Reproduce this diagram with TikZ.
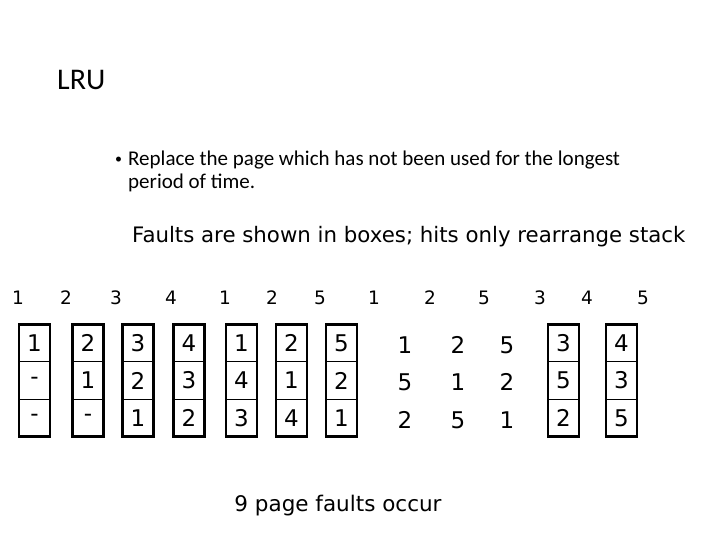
\documentclass[tikz,border=0pt]{standalone}
\usepackage{fontspec}
\setmainfont{DejaVu Sans}
\newfontfamily\slidefont{Carlito}
\usetikzlibrary{positioning}
\tikzset{
  cell/.style={draw, line width=0.6pt, minimum width=31pt, minimum height=37.5pt, inner sep=0pt, outer sep=0pt, font=\fontsize{23}{23}\selectfont},
  hitnum/.style={inner sep=0pt, font=\fontsize{23}{23}\selectfont},
  refnum/.style={inner sep=0pt, font=\fontsize{18.5}{18.5}\selectfont},
  frame/.style={line width=2.6pt}
}
\begin{document}
\begin{tikzpicture}[x=1pt,y=-1pt]
\useasboundingbox[fill=white] (0,0) rectangle (720,540);
% heading and text
\node[anchor=base west, inner sep=0pt, font=\slidefont\fontsize{30}{30}\selectfont] (title) at (57,90) {LRU};
\node[anchor=base west, inner sep=0pt, font=\slidefont\fontsize{14}{14}\selectfont] (blt) at (115,164) {•};
\node[anchor=base west, inner sep=0pt, align=left, font=\slidefont\fontsize{21}{23}\selectfont] (rule) at (128,189) {Replace the page which has not been used for the longest\\period of time.};
\node[anchor=base west, inner sep=0pt, font=\fontsize{21.3}{21.3}\selectfont] (note) at (132,242) {Faults are shown in boxes; hits only rearrange stack};
% reference string
\node[refnum] (r1) at (18,298) {1};
\node[refnum] (r2) at (66,298) {2};
\node[refnum] (r3) at (116,298) {3};
\node[refnum] (r4) at (171,298) {4};
\node[refnum] (r5) at (225,298) {1};
\node[refnum] (r6) at (272,298) {2};
\node[refnum] (r7) at (320,298) {5};
\node[refnum] (r8) at (374,298) {1};
\node[refnum] (r9) at (430,298) {2};
\node[refnum] (r10) at (484,298) {5};
\node[refnum] (r11) at (540,298) {3};
\node[refnum] (r12) at (587,298) {4};
\node[refnum] (r13) at (643,298) {5};
% fault stacks
\node[cell] (s1a) at (34.5,343) {1};
\node[cell, below=0pt of s1a] (s1b) {-};
\node[cell, below=0pt of s1b] (s1c) {-};
\node[cell] (s2a) at (88,343) {2};
\node[cell, below=0pt of s2a] (s2b) {1};
\node[cell, below=0pt of s2b] (s2c) {-};
\node[cell] (s3a) at (138,343) {3};
\node[cell, below=0pt of s3a] (s3b) {2};
\node[cell, below=0pt of s3b] (s3c) {1};
\node[cell] (s4a) at (189,343) {4};
\node[cell, below=0pt of s4a] (s4b) {3};
\node[cell, below=0pt of s4b] (s4c) {2};
\node[cell] (s5a) at (241.5,343) {1};
\node[cell, below=0pt of s5a] (s5b) {4};
\node[cell, below=0pt of s5b] (s5c) {3};
\node[cell] (s6a) at (291.5,343) {2};
\node[cell, below=0pt of s6a] (s6b) {1};
\node[cell, below=0pt of s6b] (s6c) {4};
\node[cell] (s7a) at (341.5,343) {5};
\node[cell, below=0pt of s7a] (s7b) {2};
\node[cell, below=0pt of s7b] (s7c) {1};
\node[cell] (s8a) at (563.5,343) {3};
\node[cell, below=0pt of s8a] (s8b) {5};
\node[cell, below=0pt of s8b] (s8c) {2};
\node[cell] (s9a) at (621.5,343) {4};
\node[cell, below=0pt of s9a] (s9b) {3};
\node[cell, below=0pt of s9b] (s9c) {5};
\draw[frame] (s1a.north west) rectangle (s1c.south east);
\draw[frame] (s2a.north west) rectangle (s2c.south east);
\draw[frame] (s3a.north west) rectangle (s3c.south east);
\draw[frame] (s4a.north west) rectangle (s4c.south east);
\draw[frame] (s5a.north west) rectangle (s5c.south east);
\draw[frame] (s6a.north west) rectangle (s6c.south east);
\draw[frame] (s7a.north west) rectangle (s7c.south east);
\draw[frame] (s8a.north west) rectangle (s8c.south east);
\draw[frame] (s9a.north west) rectangle (s9c.south east);
% hits, no box
\node[hitnum] (h1a) at (405,345) {1};
\node[hitnum] (h1b) at (405,382) {5};
\node[hitnum] (h1c) at (405,420) {2};
\node[hitnum] (h2a) at (458,345) {2};
\node[hitnum] (h2b) at (458,382) {1};
\node[hitnum] (h2c) at (458,420) {5};
\node[hitnum] (h3a) at (507,345) {5};
\node[hitnum] (h3b) at (507,382) {2};
\node[hitnum] (h3c) at (507,420) {1};
% total
\node[inner sep=0pt, font=\fontsize{21.5}{21.5}\selectfont] (total) at (338,506) {9 page faults occur};
\end{tikzpicture}
\end{document}
